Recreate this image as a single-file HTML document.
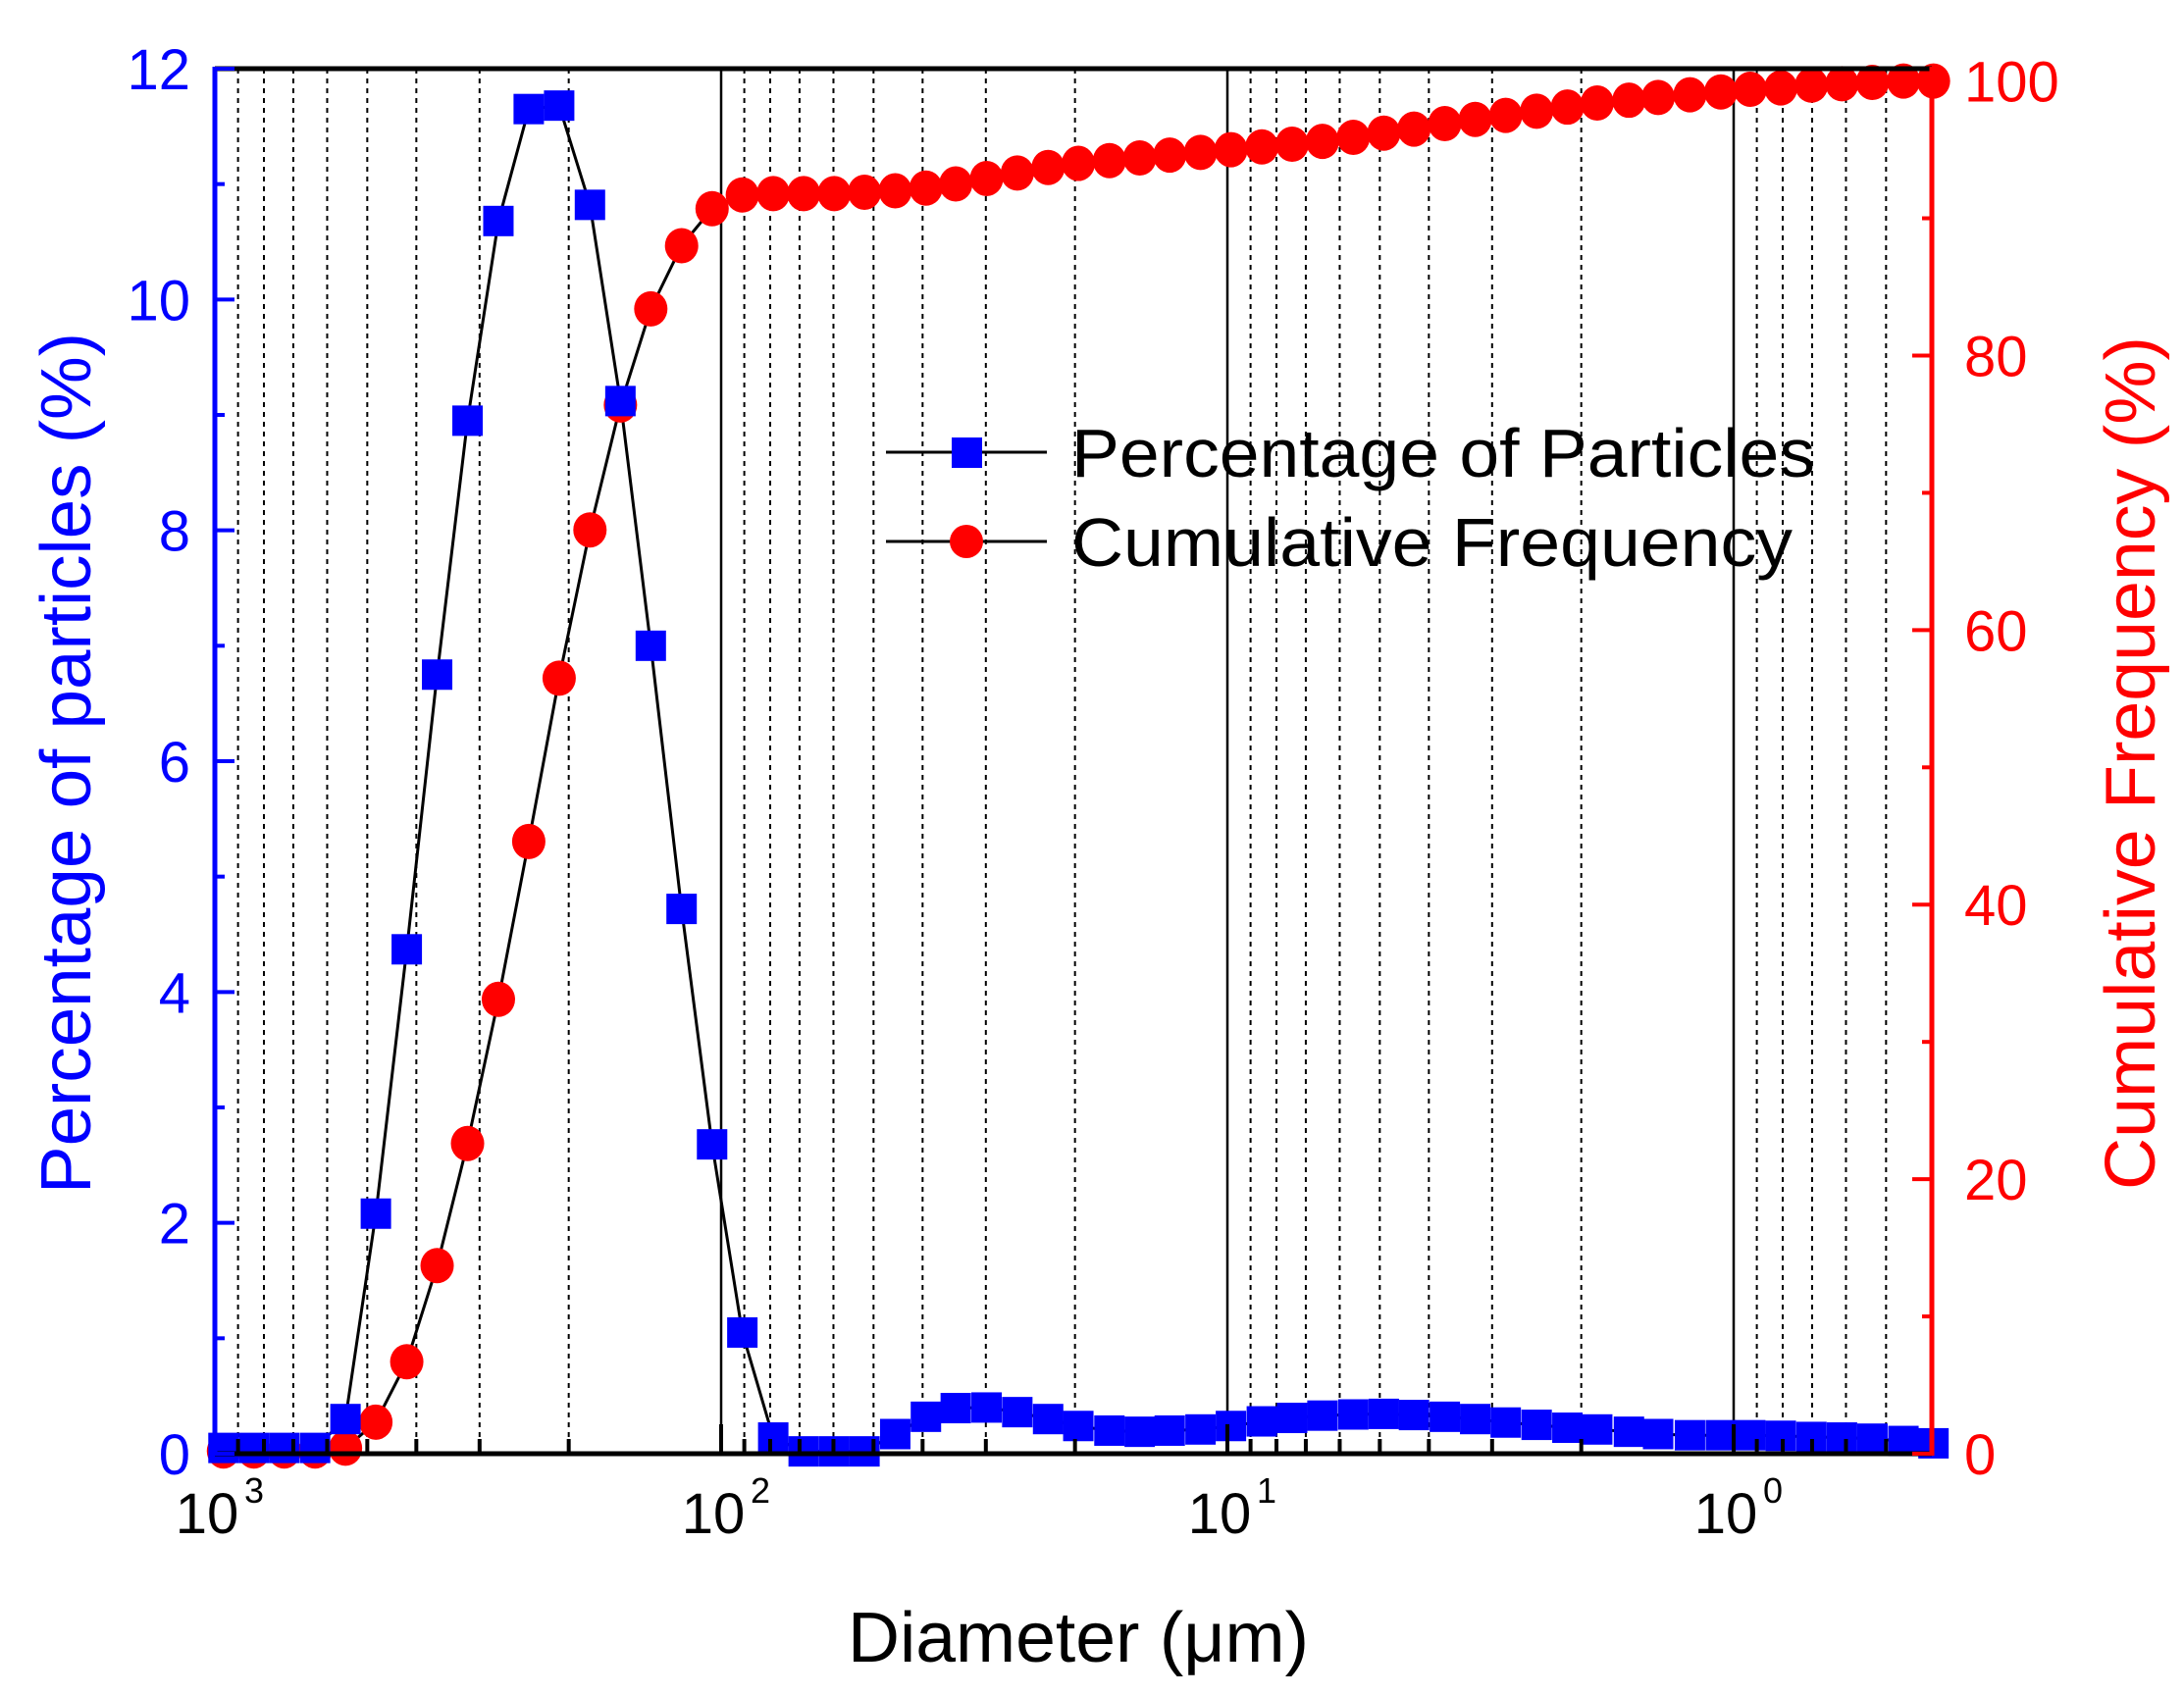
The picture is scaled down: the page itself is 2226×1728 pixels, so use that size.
<!DOCTYPE html>
<html><head><meta charset="utf-8"><style>
html,body{margin:0;padding:0;background:#fff;}
svg{display:block;font-family:"Liberation Sans",Arial,sans-serif;}
</style></head><body>
<svg id="chart" width="2226" height="1728" viewBox="0 0 2226 1728" xmlns="http://www.w3.org/2000/svg">
<g id="grid"></g>
<g id="series"></g>
<g id="axes"></g>
<g id="legend">
  <line x1="903" y1="461" x2="1067" y2="461" stroke="#000" stroke-width="3"/>
  <rect x="970" y="446" width="31" height="31" fill="#0000ff"/>
  <text x="1092" y="486" font-size="70" textLength="758" lengthAdjust="spacingAndGlyphs">Percentage of Particles</text>
  <line x1="903" y1="552" x2="1067" y2="552" stroke="#000" stroke-width="3"/>
  <ellipse cx="985" cy="552" rx="17" ry="17" fill="#ff0000"/>
  <text x="1092" y="577" font-size="70" textLength="735" lengthAdjust="spacingAndGlyphs">Cumulative Frequency</text>
</g>
<text x="1099" y="1694" font-size="72" text-anchor="middle" textLength="470" lengthAdjust="spacingAndGlyphs">Diameter (μm)</text>
<text transform="translate(92,778) rotate(-90)" font-size="72" fill="#0000ff" text-anchor="middle" textLength="878" lengthAdjust="spacingAndGlyphs">Percentage of particles (%)</text>
<text transform="translate(2196,778) rotate(-90)" font-size="72" fill="#ff0000" text-anchor="middle" textLength="870" lengthAdjust="spacingAndGlyphs">Cumulative Frequency (%)</text>
</svg>
<script>
const diameters=[961.6,837.5,729.5,634.0,552.1,480.8,417.8,363.9,316.9,275.4,239.9,208.9,181.6,158.1,137.7,119.7,104.2,90.8,78.9,68.7,59.8,52.1,45.3,39.4,34.4,29.9,26.0,22.6,19.7,17.1,14.9,13.0,11.3,9.84,8.55,7.45,6.49,5.64,4.91,4.28,3.72,3.24,2.82,2.45,2.13,1.86,1.61,1.41,1.22,1.06,0.927,0.807,0.702,0.611,0.532,0.462,0.403];
const percentValues=[0.05,0.05,0.05,0.05,0.3,2.08,4.37,6.75,8.95,10.68,11.65,11.68,10.82,9.12,7.0,4.72,2.68,1.05,0.14,0.02,0.02,0.02,0.17,0.32,0.395,0.40,0.36,0.30,0.24,0.20,0.19,0.20,0.21,0.24,0.28,0.31,0.33,0.34,0.345,0.335,0.32,0.30,0.27,0.25,0.225,0.21,0.19,0.17,0.16,0.16,0.16,0.155,0.145,0.14,0.13,0.11,0.09];
const cumulativeValues=[0.2,0.2,0.2,0.2,0.4,2.3,6.7,13.7,22.6,33.1,44.6,56.5,67.3,76.4,83.4,88.0,90.7,91.7,91.8,91.8,91.8,91.9,92.0,92.2,92.5,92.9,93.3,93.7,94.0,94.2,94.4,94.6,94.8,95.0,95.2,95.4,95.6,95.9,96.2,96.5,96.9,97.2,97.5,97.8,98.1,98.4,98.6,98.8,99.0,99.2,99.4,99.5,99.7,99.8,99.9,100,100];
const xDecades=[3,2,1,0];
const leftTicks=[0,2,4,6,8,10,12];
const rightTicks=[0,20,40,60,80,100];

const NS="http://www.w3.org/2000/svg";
const PL=219,PR=1969,PT=70,PB=1482,DEC=516;
const X=d=>PL+(3-Math.log10(d))*DEC;
const YL=v=>PB-v*(PB-PT)/12;
const YR=v=>PB-v*(PB-PT)/100.9;
function mk(parent,tag,attrs){const e=document.createElementNS(NS,tag);for(const k in attrs)e.setAttribute(k,attrs[k]);parent.appendChild(e);return e;}
const gridG=document.getElementById('grid'),serG=document.getElementById('series'),axG=document.getElementById('axes');

for(let e=3;e>=-1;e--){
  for(let m=1;m<=9;m++){
    if(e===3&&m>1)continue;
    const val=m*Math.pow(10,e);
    const x=X(val); if(x<PL-1||x>PR+1)continue;
    const ln=mk(gridG,'line',{x1:x,y1:PT,x2:x,y2:PB,stroke:'#000','stroke-width':m===1?2.5:2,'stroke-dasharray':m===1?'none':'5,5'});
    
    
    const tk=mk(axG,'line',{x1:x,y1:PB,x2:x,y2:PB-(m===1?30:15),stroke:'#000','stroke-width':4});
    
    
  }
}
function pathD(vals,yf){return vals.map((v,i)=>(i?'L':'M')+X(diameters[i]).toFixed(1)+','+yf(v).toFixed(1)).join('');}
const p1=mk(serG,'path',{d:pathD(percentValues,YL),fill:'none',stroke:'#000','stroke-width':3});


const p2=mk(serG,'path',{d:pathD(cumulativeValues,YR),fill:'none',stroke:'#000','stroke-width':3});


cumulativeValues.forEach((v,i)=>{
  const c=mk(serG,'ellipse',{cx:X(diameters[i]),cy:YR(v),rx:17,ry:18,fill:'#ff0000'});
  
  
});
percentValues.forEach((v,i)=>{
  const r=mk(serG,'rect',{x:X(diameters[i])-15.5,y:YL(v)-15.5,width:31,height:31,fill:'#0000ff'});
  
  
});
const topAxis=mk(axG,'line',{x1:PL,y1:PT,x2:PR,y2:PT,stroke:'#000','stroke-width':5});


const botAxis=mk(axG,'line',{x1:PL,y1:PB,x2:PR,y2:PB,stroke:'#000','stroke-width':5});


const leftAxis=mk(axG,'line',{x1:PL,y1:PT-2,x2:PL,y2:PB+2,stroke:'#0000ff','stroke-width':5});


const rightAxis=mk(axG,'line',{x1:PR,y1:PT-2,x2:PR,y2:PB+2,stroke:'#ff0000','stroke-width':5});


for(let v=0;v<=12;v++){
  const t=mk(axG,'line',{x1:PL,y1:YL(v),x2:PL+(v%2?10:20),y2:YL(v),stroke:'#0000ff','stroke-width':4});
  
  
}
leftTicks.forEach(v=>{
  const t=mk(axG,'text',{x:194,y:YL(v)+21,'font-size':58,fill:'#0000ff','text-anchor':'end'});
  t.textContent=v;
  
  
});
for(let v=0;v<=100;v+=10){
  const t=mk(axG,'line',{x1:PR,y1:YR(v),x2:PR-(v%20?10:20),y2:YR(v),stroke:'#ff0000','stroke-width':4});
  
  
}
rightTicks.forEach(v=>{
  const t=mk(axG,'text',{x:2002,y:YR(v)+21,'font-size':58,fill:'#ff0000','text-anchor':'start'});
  t.textContent=v;
  
  
});
xDecades.forEach(e=>{
  const x=X(Math.pow(10,e));
  const t=mk(axG,'text',{x:x-8,y:1563,'font-size':58,'text-anchor':'middle'});
  t.textContent='10';
  
  
  const s=mk(axG,'text',{x:x+40,y:1532,'font-size':36,'text-anchor':'middle'});
  s.textContent=e;
  
  
});
</script>
</body></html>
